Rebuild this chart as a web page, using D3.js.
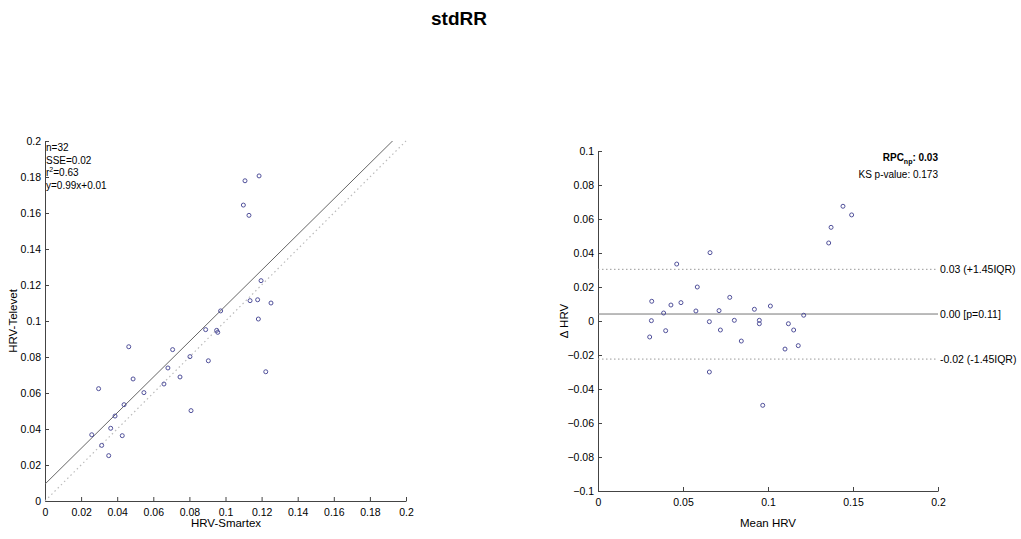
<!DOCTYPE html>
<html>
<head>
<meta charset="utf-8">
<script src="https://cdn.jsdelivr.net/npm/d3@7"></script>
<style>
body { margin: 0; background: #fff; }
svg { font-family: "Liberation Sans", Arial, sans-serif; }
</style>
</head>
<body>
<div id="graphContainer"></div>
<script>
// left panel: HRV-Smartex vs HRV-Televet
var smartex = [0.0259,0.0297,0.0314,0.0353,0.0364,0.0388,0.0428,0.0438,0.0464,0.0488,0.0548,0.0659,0.0681,0.0707,0.0748,0.0803,0.0809,0.0890,0.0905,0.0951,0.0957,0.0973,0.1136,0.1178,0.1252,0.1182,0.1223,0.1108,0.1186,0.1099,0.1130,0.1197];
var televet = [0.0368,0.0624,0.0309,0.0252,0.0404,0.0472,0.0363,0.0535,0.0857,0.0678,0.0602,0.0650,0.0739,0.0841,0.0689,0.0802,0.0502,0.0952,0.0779,0.0948,0.0937,0.1056,0.1113,0.1118,0.1100,0.1011,0.0718,0.1779,0.1806,0.1644,0.1587,0.1224];
var fitSlope = 0.99;
var fitIntercept = 0.0094;
var leftTicks = [0,0.02,0.04,0.06,0.08,0.1,0.12,0.14,0.16,0.18,0.2];
var statsText = ["n=32", "SSE=0.02", "r2=0.63", "y=0.99x+0.01"];

// right panel: Bland-Altman
var meanHrv = [0.0316,0.0314,0.0304,0.0386,0.0398,0.0429,0.0463,0.0488,0.0576,0.0584,0.0659,0.0655,0.0712,0.0720,0.0775,0.0802,0.0920,0.0949,0.0949,0.1014,0.1120,0.0843,0.1151,0.1100,0.1178,0.0655,0.0969,0.1441,0.1492,0.1371,0.1357,0.1210];
var diffHrv = [0.0116,0.0002,-0.0094,0.0047,-0.0057,0.0094,0.0335,0.0108,0.0059,0.0200,0.0402,-0.0004,0.0061,-0.0053,0.0139,0.0004,0.0069,0.0004,-0.0016,0.0088,-0.0016,-0.0118,-0.0053,-0.0165,-0.0145,-0.0300,-0.0496,0.0675,0.0624,0.0551,0.0459,0.0034];
var baLines = [
	{ value: 0.0304, label: "0.03 (+1.45IQR)", dash: "1.5,2.5", color: "#999" },
	{ value: 0.0041, label: "0.00 [p=0.11]", dash: null, color: "#777" },
	{ value: -0.0224, label: "-0.02 (-1.45IQR)", dash: "1.5,2.5", color: "#999" }
];
var rightXTicks = [0,0.05,0.1,0.15,0.2];
var rightYTicks = [-0.1,-0.08,-0.06,-0.04,-0.02,0,0.02,0.04,0.06,0.08,0.1];

var markColor = "#50509a";
var axisColor = "#444";
var fmt = d3.format("~g");

var svg = d3.select("#graphContainer")
	.append("svg")
	.attr("width", 1021)
	.attr("height", 539);

svg.append("text")
	.attr("x", 459)
	.attr("y", 25)
	.attr("text-anchor", "middle")
	.style("font-size", "19px")
	.style("font-weight", "bold")
	.text("stdRR");

function styleAxis(g) {
	g.select(".domain").attr("stroke", axisColor);
	g.selectAll(".tick line").attr("stroke", axisColor);
	g.selectAll(".tick text").attr("fill", "#000").style("font-size", "10.5px");
}

// ---------- left ----------
var xL = d3.scaleLinear().domain([0, 0.2]).range([45, 406]);
var yL = d3.scaleLinear().domain([0, 0.2]).range([501, 141]);

svg.append("clipPath").attr("id", "clipL")
	.append("rect").attr("x", 45).attr("y", 141).attr("width", 361).attr("height", 360);

svg.append("g")
	.attr("transform", "translate(0,501)")
	.call(d3.axisBottom(xL).tickValues(leftTicks).tickFormat(fmt).tickSizeInner(-4).tickSizeOuter(0).tickPadding(8))
	.call(styleAxis);

svg.append("g")
	.attr("transform", "translate(45,0)")
	.call(d3.axisLeft(yL).tickValues(leftTicks).tickFormat(fmt).tickSizeInner(-4).tickSizeOuter(0).tickPadding(4))
	.call(styleAxis);

// identity line
svg.append("line")
	.attr("x1", xL(0)).attr("y1", yL(0))
	.attr("x2", xL(0.2)).attr("y2", yL(0.2))
	.attr("stroke", "#bbb")
	.attr("stroke-width", 1.2)
	.attr("stroke-dasharray", "1.5,3");

// regression line
svg.append("line")
	.attr("clip-path", "url(#clipL)")
	.attr("x1", xL(0)).attr("y1", yL(fitIntercept))
	.attr("x2", xL(0.2)).attr("y2", yL(fitIntercept + fitSlope * 0.2))
	.attr("stroke", "#666")
	.attr("stroke-width", 1);

svg.append("g").selectAll("circle")
	.data(smartex)
	.enter().append("circle")
	.attr("cx", function(d) { return xL(d); })
	.attr("cy", function(d, i) { return yL(televet[i]); })
	.attr("r", 2)
	.attr("fill", "none")
	.attr("stroke", markColor)
	.attr("stroke-width", 1);

var stats = svg.append("g").style("font-size", "10px");
statsText.forEach(function(t, i) {
	var txt = stats.append("text").attr("x", 46).attr("y", 151 + i * 12.5);
	if (t.indexOf("r2") === 0) {
		txt.append("tspan").text("r");
		txt.append("tspan").attr("dy", -4).style("font-size", "7px").text("2");
		txt.append("tspan").attr("dy", 4).text(t.slice(2));
	} else {
		txt.text(t);
	}
});

svg.append("text")
	.attr("x", 226).attr("y", 527)
	.attr("text-anchor", "middle")
	.style("font-size", "11.5px")
	.text("HRV-Smartex");

svg.append("text")
	.attr("transform", "translate(17,321) rotate(-90)")
	.attr("text-anchor", "middle")
	.style("font-size", "11.5px")
	.text("HRV-Televet");

// ---------- right ----------
var xR = d3.scaleLinear().domain([0, 0.2]).range([598, 938]);
var yR = d3.scaleLinear().domain([-0.1, 0.1]).range([491, 151]);

svg.append("g")
	.attr("transform", "translate(0,491)")
	.call(d3.axisBottom(xR).tickValues(rightXTicks).tickFormat(fmt).tickSizeInner(-4).tickSizeOuter(0).tickPadding(8))
	.call(styleAxis);

svg.append("g")
	.attr("transform", "translate(598,0)")
	.call(d3.axisLeft(yR).tickValues(rightYTicks).tickFormat(fmt).tickSizeInner(-4).tickSizeOuter(0).tickPadding(4))
	.call(styleAxis);

baLines.forEach(function(l) {
	svg.append("line")
		.attr("x1", xR(0)).attr("x2", xR(0.2))
		.attr("y1", yR(l.value)).attr("y2", yR(l.value))
		.attr("stroke", l.color)
		.attr("stroke-width", 1)
		.attr("stroke-dasharray", l.dash);
	svg.append("text")
		.attr("x", xR(0.2) + 2)
		.attr("y", yR(l.value))
		.attr("dy", "0.35em")
		.style("font-size", "10.5px")
		.text(l.label);
});

svg.append("g").selectAll("circle")
	.data(meanHrv)
	.enter().append("circle")
	.attr("cx", function(d) { return xR(d); })
	.attr("cy", function(d, i) { return yR(diffHrv[i]); })
	.attr("r", 2)
	.attr("fill", "none")
	.attr("stroke", markColor)
	.attr("stroke-width", 1);

var rpc = svg.append("text")
	.attr("x", 938).attr("y", 161)
	.attr("text-anchor", "end")
	.style("font-size", "10px")
	.style("font-weight", "bold");
rpc.append("tspan").text("RPC");
rpc.append("tspan").attr("dy", 3).style("font-size", "7px").text("np");
rpc.append("tspan").attr("dy", -3).text(": 0.03");

svg.append("text")
	.attr("x", 938).attr("y", 178)
	.attr("text-anchor", "end")
	.style("font-size", "10px")
	.text("KS p-value: 0.173");

svg.append("text")
	.attr("x", 768).attr("y", 527)
	.attr("text-anchor", "middle")
	.style("font-size", "11.5px")
	.text("Mean HRV");

svg.append("text")
	.attr("transform", "translate(568,321) rotate(-90)")
	.attr("text-anchor", "middle")
	.style("font-size", "11.5px")
	.text("\u0394 HRV");
</script>
</body>
</html>
